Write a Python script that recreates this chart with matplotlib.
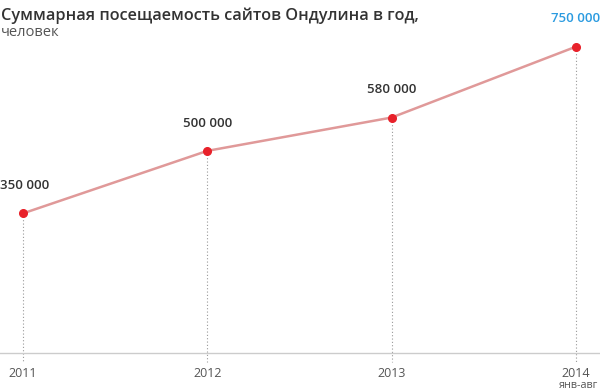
import matplotlib.pyplot as plt

years = ['2011', '2012', '2013', '2014']
visits = [350000, 500000, 580000, 750000]
value_labels = ['350 000', '500 000', '580 000', '750 000']

plt.rcParams['font.family'] = ['Open Sans', 'DejaVu Sans']

fig = plt.figure(figsize=(6, 3.91), dpi=100)
W, H = 600.0, 391.0
# axes spans full width, bottom at the grey base line
ax = fig.add_axes([0, (H - 353) / H, 1, (353 - 30) / H])
x = list(range(len(years)))

ax.set_xlim(-23 / 184.3, 3 + 24 / 184.3)
ylo, yhi = 15000, 790000
ax.set_ylim(ylo, yhi)
for s in ax.spines.values():
    s.set_visible(False)
ax.axhline(ylo, color='#cccccc', lw=1, clip_on=False)

for xi, v in zip(x, visits):
    ax.plot([xi, xi], [v, ylo - 22000], color='#999999', lw=0.8, ls=(0, (1, 2)),
            clip_on=False, zorder=1)

ax.plot(x, visits, color='#e09999', lw=1.8, zorder=2)
ax.plot(x, visits, 'o', color='#e8212a', ms=5.5, zorder=3, clip_on=False)

for i, (xi, v, lab) in enumerate(zip(x, visits, value_labels)):
    col = '#2b9be0' if i == len(x) - 1 else '#333333'
    ha = 'center'
    off = 0
    if i == 0:
        ha = 'left'
        off = -23 / 184.3
    ax.annotate(lab, (xi + off, v), xytext=(0, 20), textcoords='offset points',
                ha=ha, va='center', fontsize=9.5, fontweight='semibold', color=col,
                annotation_clip=False)

ax.set_xticks([])
ax.set_yticks([])
for xi, yr in zip(x, years):
    ax.text(xi, -0.064, yr, transform=ax.get_xaxis_transform(), ha='center', va='center',
            fontsize=9, color='#555555')
fig.text(0.997, 1 - 385.5 / H, 'янв-авг', ha='right', va='center', fontsize=7.8, color='#555555')

fig.text(0.002, 1 - 16 / H, 'Суммарная посещаемость сайтов Ондулина в год,',
         ha='left', va='center', fontsize=11.7, fontweight='semibold', color='#333333')
fig.text(0.002, 1 - 33 / H, 'человек', ha='left', va='center', fontsize=10.5,
         color='#555555')

fig.savefig('out.png', dpi=100)
